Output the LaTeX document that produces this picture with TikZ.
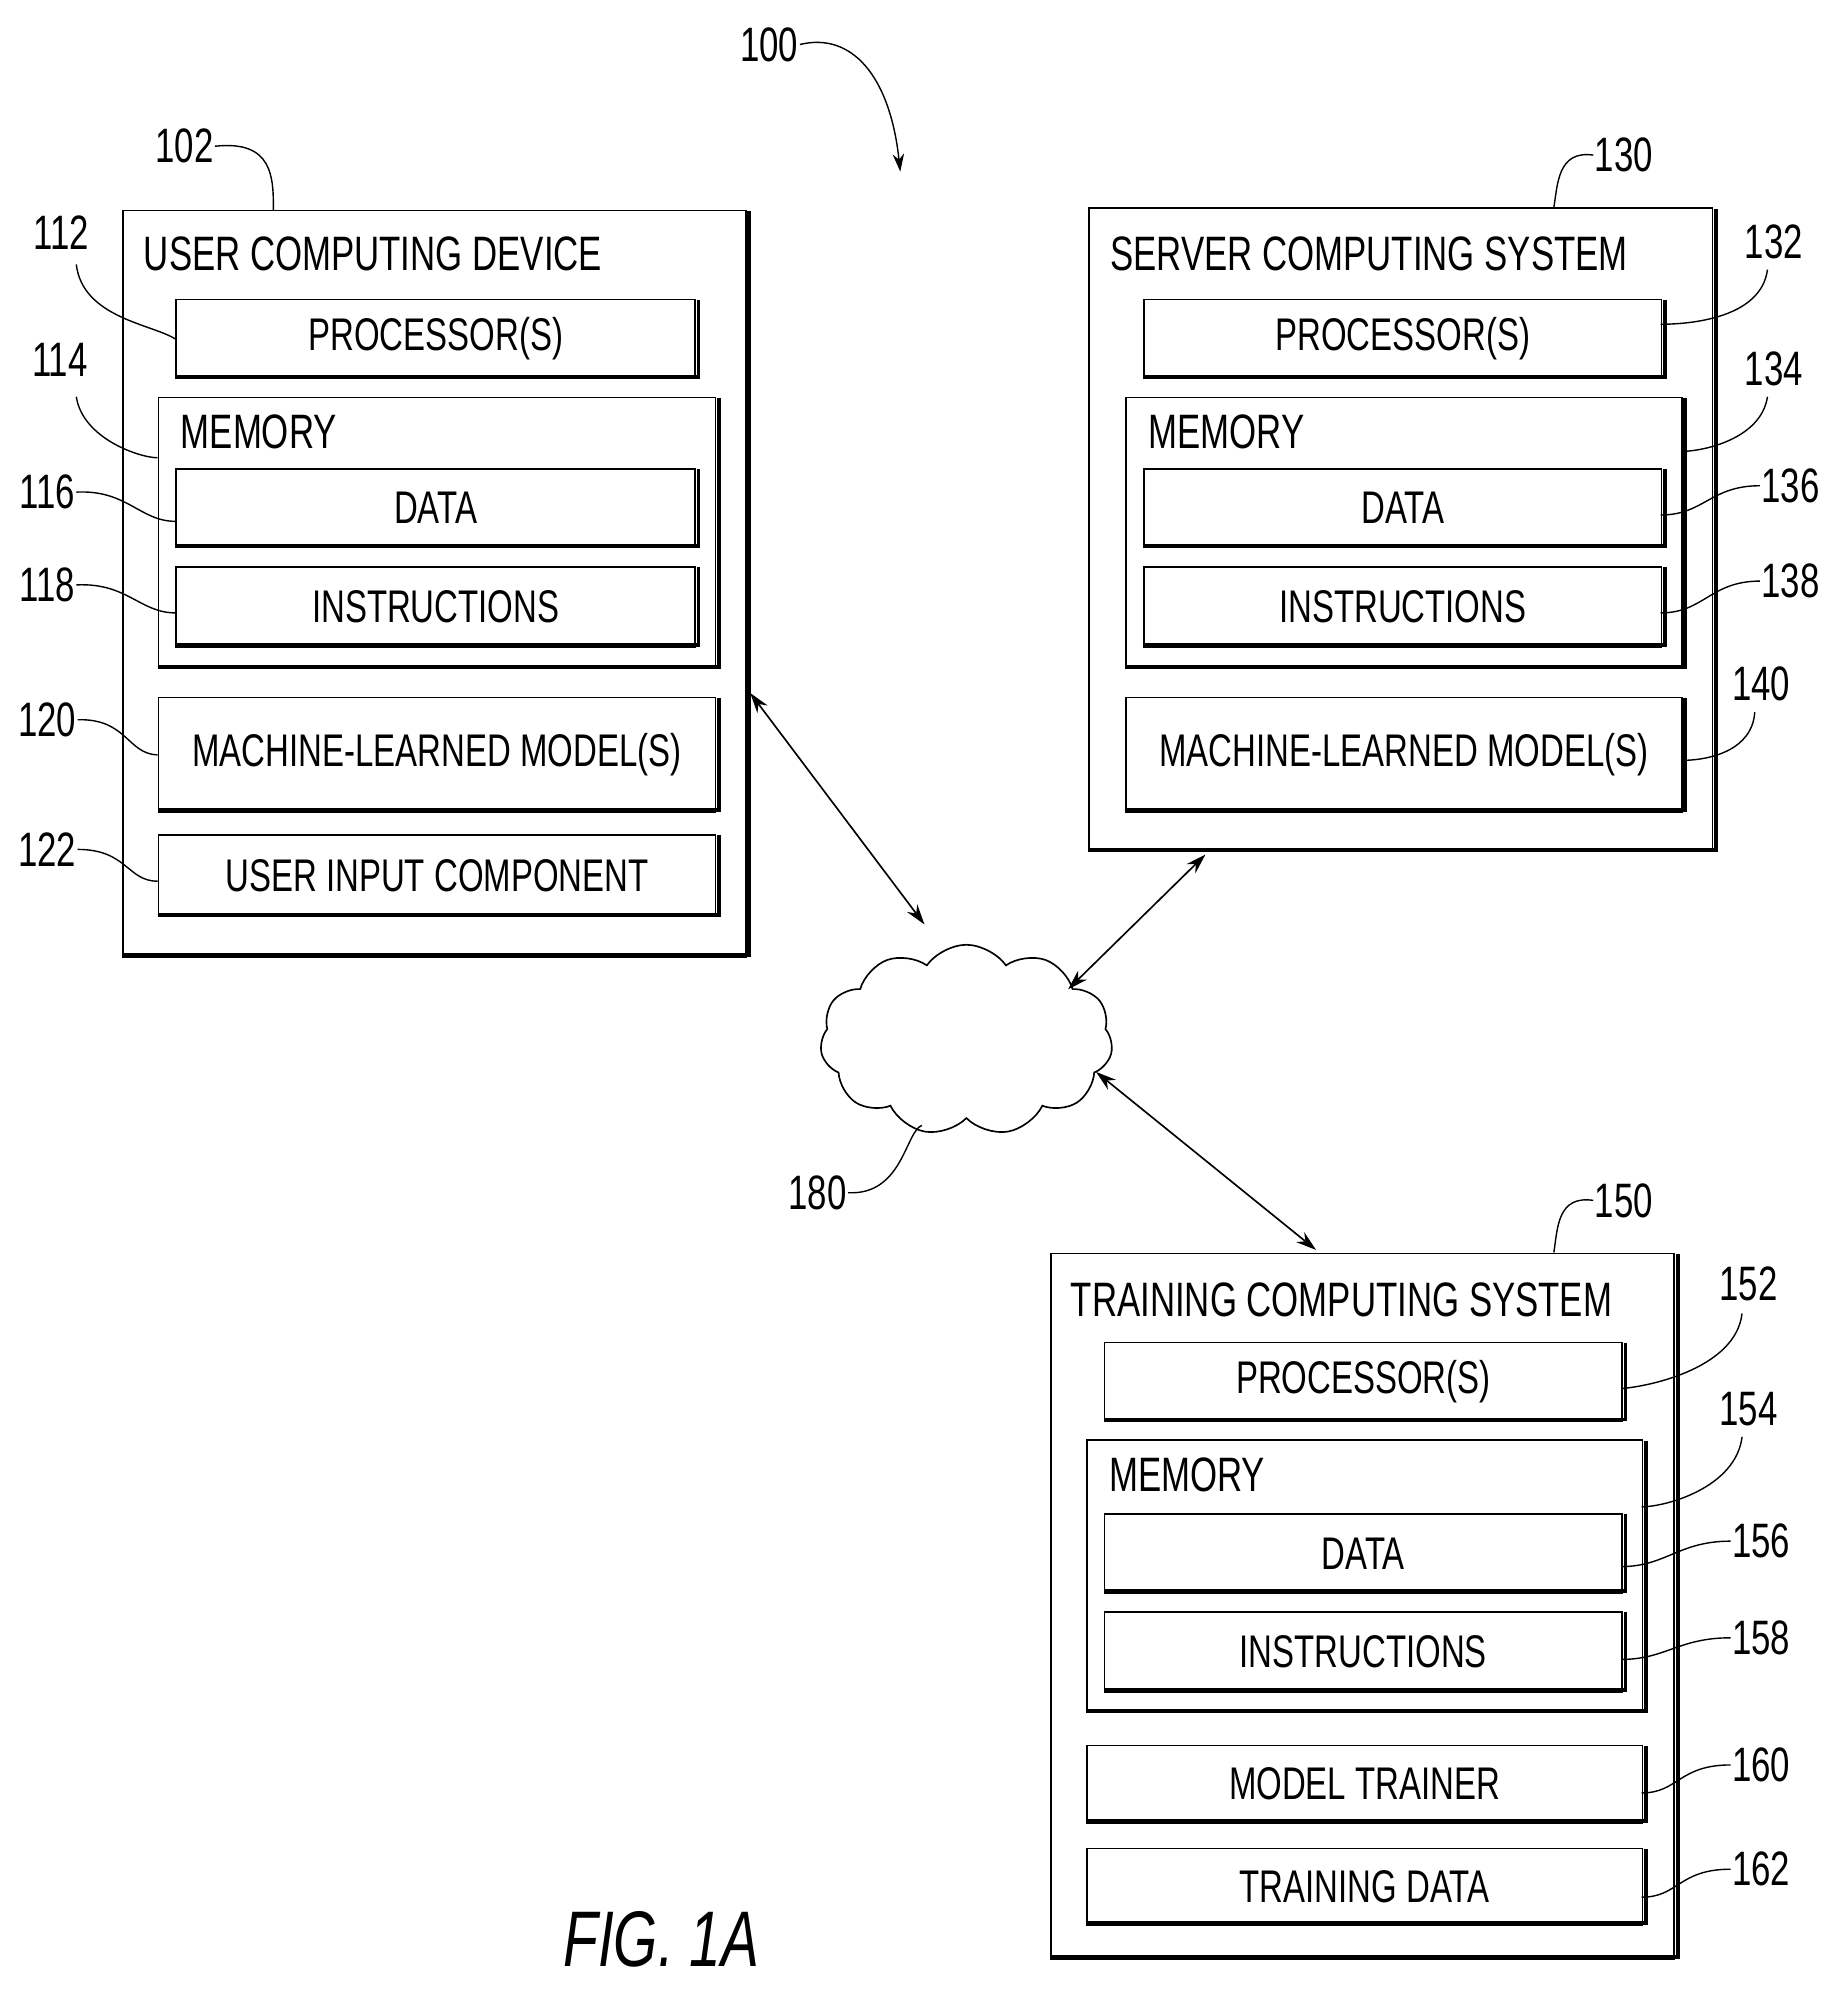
\documentclass[tikz,border=0pt]{standalone}
\usepackage{fontspec}
\setmainfont{Liberation Sans}[FakeStretch=0.72]
\usetikzlibrary{shapes.symbols,arrows.meta}
\begin{document}
\begin{tikzpicture}[x=1pt,y=-1pt,
  box/.style={draw,line width=1.3pt,anchor=north west,inner sep=0pt,font=\fontsize{36}{40}\selectfont},
  ttl/.style={anchor=west,inner sep=0pt,font=\fontsize{38}{40}\selectfont},
  num/.style={inner sep=1pt,font=\fontsize{38}{40}\selectfont},
  lead/.style={line width=1.1pt},
  arr/.style={line width=1.3pt,{Stealth[length=16pt,width=10pt]}-{Stealth[length=16pt,width=10pt]}}]
\newcommand{\shd}[1]{\draw[line width=3pt] ([xshift=2pt,yshift=-1pt]#1.north east) -- ([xshift=2pt,yshift=2pt]#1.south east) -- ([xshift=1pt,yshift=2pt]#1.south west);}
\newcommand{\bx}[6]{\node[box,minimum width=#4-#2,minimum height=#5-#3] (#1) at (#2,#3) {#6}; \shd{#1}}
\useasboundingbox (0,0) rectangle (1445,1565);
% user
\bx{u}{96}{165}{586}{752}{}
\node[ttl] (ut) at (113,200) {USER COMPUTING DEVICE};
\bx{up}{138}{235}{546}{297}{PROCESSOR(S)}
\bx{um}{124}{312}{562}{525}{}
\node[ttl] (umt) at (142,340) {MEMORY};
\bx{ud}{138}{368}{546}{430}{DATA}
\bx{ui}{138}{445}{546}{508}{INSTRUCTIONS}
\bx{ul}{124}{548}{562}{638}{MACHINE-LEARNED MODEL(S)}
\bx{uc}{124}{656}{562}{720}{USER INPUT COMPONENT}
% server
\bx{s}{856}{163}{1346}{669}{}
\node[ttl] (st) at (873,200) {SERVER COMPUTING SYSTEM};
\bx{sp}{899}{235}{1306}{297}{PROCESSOR(S)}
\bx{sm}{885}{312}{1322}{525}{}
\node[ttl] (smt) at (903,340) {MEMORY};
\bx{sd}{899}{368}{1306}{430}{DATA}
\bx{si}{899}{445}{1306}{508}{INSTRUCTIONS}
\bx{sl}{885}{548}{1322}{638}{MACHINE-LEARNED MODEL(S)}
% training
\bx{t}{826}{985}{1316}{1540}{}
\node[ttl] (tt) at (842,1022) {TRAINING COMPUTING SYSTEM};
\bx{tp}{868}{1055}{1275}{1117}{PROCESSOR(S)}
\bx{tm}{854}{1132}{1291}{1346}{}
\node[ttl] (tmt) at (872,1160) {MEMORY};
\bx{td}{868}{1190}{1275}{1252}{DATA}
\bx{ti}{868}{1267}{1275}{1330}{INSTRUCTIONS}
\bx{tr}{854}{1372}{1291}{1433}{MODEL TRAINER}
\bx{tg}{854}{1453}{1291}{1513}{TRAINING DATA}
% cloud
\node[cloud,draw,line width=1.3pt,cloud puffs=11,cloud puff arc=110,aspect=1.6,minimum width=230,minimum height=150] (c) at (760,818) {};
\coordinate (cu) at (727,727); \coordinate (cs) at (840,778); \coordinate (ct) at (862,843);
\coordinate (ua) at (590,545); \coordinate (sa) at (948,672); \coordinate (ta) at (1035,983);
\draw[arr] (ua) -- (cu);
\draw[arr] (sa) -- (cs);
\draw[arr] (ct) -- (ta);
% labels
\node[num] (n100) at (605,35) {100};
\coordinate (a100) at (708,135);
\draw[lead,-{Stealth[length=14pt,width=9pt]}] (n100.east) .. controls (670,25) and (700,60) .. (a100);
\node[num] (n102) at (145,115) {102};
\draw[lead] (n102.east) .. controls (215,110) and (215,140) .. (u.north -| 215,165);
\node[num] (n180) at (643,938) {180};
\draw[lead] (n180.east) .. controls (710,940) and (712,890) .. (725,885);
\node[num] (n112) at (48,183) {112};
\draw[lead] (60,208) .. controls (65,250) and (120,255) .. (up.west);
\node[num] (n114) at (47,283) {114};
\draw[lead] (60,312) .. controls (65,345) and (110,360) .. (124,360);
\node[num] (n116) at (37,387) {116};
\draw[lead] (n116.east) .. controls (100,385) and (110,410) .. (138,410);
\node[num] (n118) at (37,460) {118};
\draw[lead] (n118.east) .. controls (100,458) and (110,482) .. (138,482);
\node[num] (n120) at (37,566) {120};
\draw[lead] (n120.east) .. controls (100,565) and (100,593) .. (ul.west);
\node[num] (n122) at (37,668) {122};
\draw[lead] (n122.east) .. controls (100,668) and (100,693) .. (124,693);
\node[num] (n130) at (1277,122) {130};
\draw[lead] (n130.west) .. controls (1225,118) and (1225,145) .. (1222,163);
\node[num] (n132) at (1395,190) {132};
\draw[lead] (1390,212) .. controls (1385,250) and (1330,255) .. (1306,255);
\node[num] (n134) at (1395,290) {134};
\draw[lead] (1390,312) .. controls (1385,345) and (1340,355) .. (1322,355);
\node[num] (n136) at (1408,382) {136};
\draw[lead] (n136.west) .. controls (1345,382) and (1340,405) .. (1306,405);
\node[num] (n138) at (1408,457) {138};
\draw[lead] (n138.west) .. controls (1345,457) and (1340,482) .. (1306,482);
\node[num] (n140) at (1385,538) {140};
\draw[lead] (1380,560) .. controls (1378,590) and (1345,598) .. (1322,598);
\node[num] (n150) at (1277,944) {150};
\draw[lead] (n150.west) .. controls (1225,940) and (1225,965) .. (1222,985);
\node[num] (n152) at (1375,1010) {152};
\draw[lead] (1370,1033) .. controls (1365,1075) and (1300,1090) .. (1275,1092);
\node[num] (n154) at (1375,1108) {154};
\draw[lead] (1370,1130) .. controls (1365,1170) and (1310,1185) .. (1291,1185);
\node[num] (n156) at (1385,1212) {156};
\draw[lead] (n156.west) .. controls (1320,1212) and (1310,1232) .. (1275,1232);
\node[num] (n158) at (1385,1288) {158};
\draw[lead] (n158.west) .. controls (1320,1288) and (1310,1305) .. (1275,1305);
\node[num] (n160) at (1385,1388) {160};
\draw[lead] (n160.west) .. controls (1320,1388) and (1320,1410) .. (1291,1410);
\node[num] (n162) at (1385,1470) {162};
\draw[lead] (n162.west) .. controls (1320,1470) and (1320,1492) .. (1291,1492);
\node[inner sep=0pt,font=\fontsize{62}{64}\selectfont\itshape] (fig) at (520,1525) {FIG. 1A};
\end{tikzpicture}
\end{document}
